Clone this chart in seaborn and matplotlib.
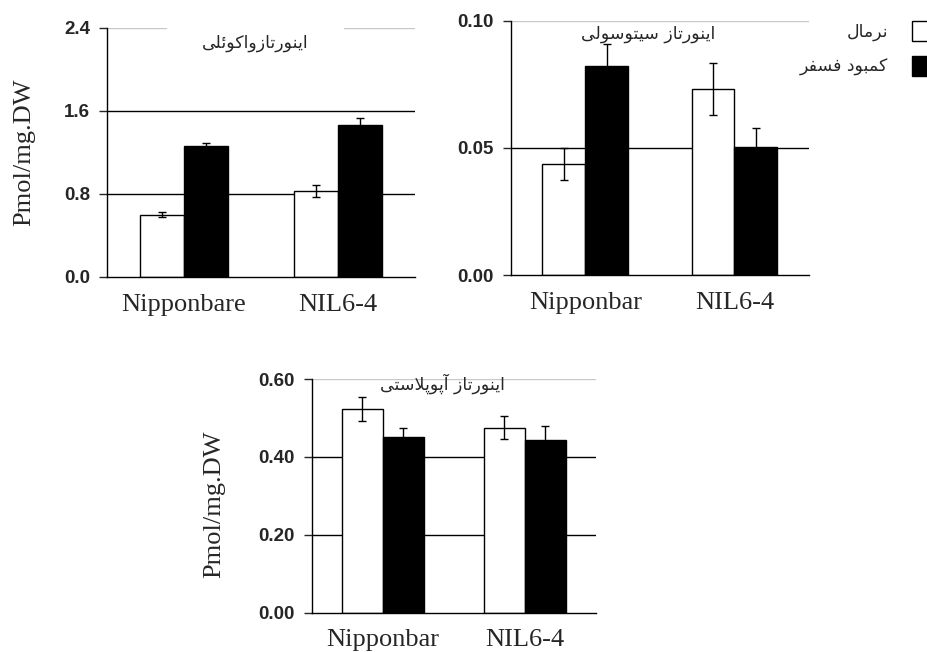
import numpy as np
import pandas as pd
import matplotlib
matplotlib.use("Agg")
import matplotlib.pyplot as plt
from matplotlib.patches import Patch
from matplotlib.ticker import FormatStrFormatter
import seaborn as sns

# data
treatments = ["نرمال", "کمبود فسفر"]
genotypes_vac = ["Nipponbare", "NIL6-4"]
genotypes = ["Nipponbar", "NIL6-4"]

vac_normal = [0.60, 0.83]
vac_pdef = [1.26, 1.46]
vac_err_normal = [0.025, 0.055]
vac_err_pdef = [0.035, 0.075]

cyt_normal = [0.0438, 0.0731]
cyt_pdef = [0.0823, 0.0503]
cyt_err_normal = [0.0063, 0.0101]
cyt_err_pdef = [0.0084, 0.0076]

apo_normal = [0.522, 0.475]
apo_pdef = [0.451, 0.443]
apo_err_normal = [0.031, 0.0295]
apo_err_pdef = [0.024, 0.036]

titles = ["اینورتازواکوئلی", "اینورتاز سیتوسولی", "اینورتاز آپوپلاستی"]
ylabel = "Pmol/mg.DW"

# matplotlib has no arabic shaping, so pick presentation forms by hand
FORMS = {
    "ا": ("\uFE8D", "\uFE8E"), "آ": ("\uFE81", "\uFE82"),
    "د": ("\uFEA9", "\uFEAA"), "ر": ("\uFEAD", "\uFEAE"),
    "ز": ("\uFEAF", "\uFEB0"), "و": ("\uFEED", "\uFEEE"),
    "لا": ("\uFEFB", "\uFEFC"),
    "ب": ("\uFE8F", "\uFE90", "\uFE91", "\uFE92"),
    "پ": ("\uFB56", "\uFB57", "\uFB58", "\uFB59"),
    "ت": ("\uFE95", "\uFE96", "\uFE97", "\uFE98"),
    "س": ("\uFEB1", "\uFEB2", "\uFEB3", "\uFEB4"),
    "ف": ("\uFED1", "\uFED2", "\uFED3", "\uFED4"),
    "ک": ("\uFB8E", "\uFB8F", "\uFB90", "\uFB91"),
    "ل": ("\uFEDD", "\uFEDE", "\uFEDF", "\uFEE0"),
    "م": ("\uFEE1", "\uFEE2", "\uFEE3", "\uFEE4"),
    "ن": ("\uFEE5", "\uFEE6", "\uFEE7", "\uFEE8"),
    "ی": ("\uFBFC", "\uFBFD", "\uFBFE", "\uFBFF"),
    "ئ": ("\uFE89", "\uFE8A", "\uFE8B", "\uFE8C"),
}


def shape(s):
    toks = []
    i = 0
    while i < len(s):
        if s[i] == "ل" and i + 1 < len(s) and s[i + 1] == "ا":
            toks.append("لا")
            i += 2
        else:
            toks.append(s[i])
            i += 1
    out = []
    for k, t in enumerate(toks):
        if t not in FORMS:
            out.append(t)
            continue
        prev = toks[k - 1] if k > 0 else None
        nxt = toks[k + 1] if k + 1 < len(toks) else None
        jp = prev in FORMS and len(FORMS[prev]) == 4
        jn = len(FORMS[t]) == 4 and nxt in FORMS
        if jp and jn:
            idx = 3
        elif jp:
            idx = 1
        elif jn:
            idx = 2
        else:
            idx = 0
        out.append(FORMS[t][idx])
    return "".join(out)[::-1]


sns.set_style("white")
plt.rcParams["font.family"] = ["Liberation Sans", "DejaVu Sans"]

colors = {treatments[0]: "white", treatments[1]: "black"}


def panel(ax, cats, normal, pdef, err_n, err_p, ymax, ticks, fmt, title, tpos):
    df = pd.DataFrame({
        "genotype": cats * 2,
        "treatment": [treatments[0]] * 2 + [treatments[1]] * 2,
        "value": normal + pdef,
    })
    sns.barplot(data=df, x="genotype", y="value", hue="treatment",
                order=cats, hue_order=treatments, palette=colors,
                edgecolor="black", linewidth=1, width=0.575, saturation=1,
                errorbar=None, legend=False, ax=ax, zorder=2)
    for cont, errs in zip(ax.containers, [err_n, err_p]):
        for bar, e in zip(cont, errs):
            ax.errorbar(bar.get_x() + bar.get_width() / 2, bar.get_height(),
                        yerr=e, fmt="none", ecolor="black", elinewidth=1,
                        capsize=3, capthick=1, zorder=3)
    ax.set_ylim(0, ymax)
    ax.set_xlim(-0.5, 1.5)
    ax.set_yticks(ticks)
    ax.yaxis.set_major_formatter(FormatStrFormatter(fmt))
    for t in ticks[1:-1]:
        ax.axhline(t, color="black", lw=1, zorder=1)
    ax.set_xlabel("")
    ax.set_ylabel("")
    for s in ["top", "right"]:
        ax.spines[s].set_visible(False)
    for s in ["left", "bottom"]:
        ax.spines[s].set_color("black")
        ax.spines[s].set_linewidth(1)
    ax.tick_params(axis="y", length=6, width=1, pad=6, direction="out",
                   left=True, labelsize=13.5)
    ax.tick_params(axis="x", length=0, pad=12)
    for lab in ax.get_yticklabels():
        lab.set_fontweight("bold")
    for lab in ax.get_xticklabels():
        lab.set_fontfamily("Liberation Serif")
        lab.set_fontsize(19)
    ax.text(tpos[0], tpos[1], shape(title), transform=ax.transAxes,
            ha="center", va="center", fontsize=12.5, family="DejaVu Sans",
            zorder=5)


fig = plt.figure(figsize=(9.28, 6.52), dpi=100)
ax1 = fig.add_axes([0.1153, 0.5752, 0.3319, 0.3819])
ax2 = fig.add_axes([0.5503, 0.5778, 0.3215, 0.3905])
ax3 = fig.add_axes([0.3359, 0.0603, 0.3060, 0.3584])

panel(ax1, genotypes_vac, vac_normal, vac_pdef, vac_err_normal, vac_err_pdef,
      2.4, [0, 0.8, 1.6, 2.4], "%.1f", titles[0], (0.48, 0.938))
panel(ax2, genotypes, cyt_normal, cyt_pdef, cyt_err_normal, cyt_err_pdef,
      0.1, [0, 0.05, 0.1], "%.2f", titles[1], (0.46, 0.947))
panel(ax3, genotypes, apo_normal, apo_pdef, apo_err_normal, apo_err_pdef,
      0.6, [0, 0.2, 0.4, 0.6], "%.2f", titles[2], (0.46, 0.981))

# light top gridlines (broken around the title in the first panel)
ax1.axhline(2.4, xmin=0, xmax=0.19, color="#c8c8c8", lw=1, zorder=1)
ax1.axhline(2.4, xmin=0.77, xmax=1, color="#c8c8c8", lw=1, zorder=1)
ax2.axhline(0.1, color="#c8c8c8", lw=1, zorder=1)
ax3.axhline(0.6, color="#c8c8c8", lw=1, zorder=1)

for ax, xl, yl in [(ax1, -0.234, 0.5), (ax3, -0.305, 0.463)]:
    ax.set_ylabel(ylabel, fontsize=19, family="Liberation Serif")
    ax.yaxis.set_label_coords(xl, yl)

handles = [Patch(facecolor=colors[t], edgecolor="black", linewidth=1)
           for t in treatments]
fig.legend(handles, [shape(t) for t in treatments], loc="upper right",
           bbox_to_anchor=(1.0105, 0.968), frameon=False, markerfirst=False,
           prop={"family": "DejaVu Sans", "size": 12.5}, handlelength=1.5,
           handleheight=1.4, handletextpad=1.36, labelspacing=0.85,
           borderpad=0, borderaxespad=0)

fig.savefig("out.png", dpi=100)
